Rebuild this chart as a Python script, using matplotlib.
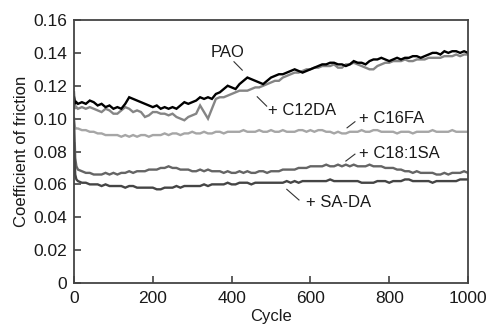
import matplotlib
matplotlib.use("Agg")
import matplotlib.pyplot as plt
from matplotlib.ticker import FuncFormatter

plt.rcParams['font.family'] = ['Liberation Sans', 'DejaVu Sans']

cycles = [0, 3, 6] + list(range(10, 1001, 10))

pao = [0.113, 0.109, 0.110,
       0.109, 0.110, 0.109, 0.111, 0.110, 0.108, 0.109, 0.107, 0.108, 0.106,
       0.107, 0.106, 0.109, 0.113, 0.112, 0.111, 0.110, 0.109, 0.108, 0.107,
       0.108, 0.106, 0.107, 0.106, 0.107, 0.106, 0.108, 0.110, 0.109, 0.110,
       0.111, 0.113, 0.112, 0.113, 0.112, 0.115, 0.116, 0.118, 0.120, 0.119,
       0.118, 0.121, 0.123, 0.125, 0.124, 0.123, 0.122, 0.121, 0.123, 0.125,
       0.126, 0.127, 0.127, 0.128, 0.129, 0.130, 0.129, 0.128, 0.129, 0.130,
       0.131, 0.132, 0.133, 0.133, 0.134, 0.134, 0.133, 0.133, 0.132, 0.133,
       0.135, 0.134, 0.134, 0.133, 0.135, 0.136, 0.136, 0.137, 0.136, 0.135,
       0.136, 0.137, 0.136, 0.137, 0.137, 0.138, 0.138, 0.137, 0.138, 0.139,
       0.140, 0.140, 0.139, 0.141, 0.140, 0.141, 0.141, 0.140, 0.141, 0.140]

c12da = [0.116, 0.106, 0.107,
         0.106, 0.107, 0.106, 0.107, 0.106, 0.105, 0.104, 0.106, 0.105, 0.103,
         0.103, 0.105, 0.107, 0.106, 0.104, 0.105, 0.104, 0.101, 0.102, 0.104,
         0.104, 0.103, 0.103, 0.102, 0.103, 0.101, 0.100, 0.099, 0.101, 0.102,
         0.103, 0.108, 0.104, 0.100, 0.106, 0.112, 0.113, 0.113, 0.114, 0.115,
         0.116, 0.117, 0.117, 0.117, 0.118, 0.119, 0.119, 0.120, 0.121, 0.122,
         0.123, 0.123, 0.125, 0.126, 0.127, 0.128, 0.128, 0.129, 0.130, 0.130,
         0.131, 0.131, 0.132, 0.132, 0.132, 0.133, 0.131, 0.131, 0.133, 0.133,
         0.134, 0.133, 0.132, 0.131, 0.130, 0.130, 0.132, 0.133, 0.134, 0.134,
         0.135, 0.135, 0.135, 0.136, 0.135, 0.135, 0.136, 0.136, 0.136, 0.137,
         0.137, 0.137, 0.137, 0.138, 0.138, 0.138, 0.139, 0.138, 0.139, 0.139]

c16fa = [0.098, 0.094, 0.094,
         0.094, 0.093, 0.093, 0.092, 0.092, 0.091, 0.091, 0.090, 0.090, 0.090,
         0.090, 0.089, 0.090, 0.089, 0.090, 0.089, 0.090, 0.090, 0.089, 0.090,
         0.090, 0.090, 0.091, 0.090, 0.091, 0.091, 0.090, 0.091, 0.091, 0.092,
         0.091, 0.091, 0.092, 0.091, 0.091, 0.092, 0.092, 0.091, 0.092, 0.092,
         0.092, 0.092, 0.093, 0.092, 0.092, 0.092, 0.093, 0.092, 0.092, 0.093,
         0.092, 0.092, 0.093, 0.092, 0.092, 0.092, 0.093, 0.093, 0.092, 0.093,
         0.092, 0.093, 0.093, 0.092, 0.092, 0.091, 0.092, 0.091, 0.091, 0.092,
         0.092, 0.092, 0.093, 0.092, 0.092, 0.093, 0.093, 0.092, 0.092, 0.092,
         0.092, 0.091, 0.092, 0.092, 0.092, 0.091, 0.092, 0.092, 0.092, 0.092,
         0.093, 0.092, 0.092, 0.092, 0.092, 0.093, 0.092, 0.092, 0.092, 0.092]

c18_1sa = [0.100, 0.076, 0.071,
           0.069, 0.068, 0.067, 0.067, 0.066, 0.066, 0.066, 0.067, 0.066, 0.067,
           0.066, 0.067, 0.067, 0.068, 0.067, 0.068, 0.068, 0.068, 0.069, 0.069,
           0.069, 0.070, 0.070, 0.071, 0.070, 0.070, 0.069, 0.069, 0.069, 0.068,
           0.068, 0.069, 0.068, 0.069, 0.068, 0.068, 0.068, 0.067, 0.068, 0.067,
           0.067, 0.068, 0.067, 0.068, 0.067, 0.067, 0.068, 0.068, 0.067, 0.068,
           0.068, 0.068, 0.069, 0.069, 0.069, 0.069, 0.070, 0.070, 0.070, 0.071,
           0.071, 0.071, 0.071, 0.072, 0.071, 0.071, 0.072, 0.071, 0.072, 0.071,
           0.072, 0.071, 0.071, 0.071, 0.072, 0.071, 0.071, 0.071, 0.070, 0.070,
           0.070, 0.069, 0.069, 0.068, 0.068, 0.067, 0.068, 0.067, 0.067, 0.067,
           0.067, 0.066, 0.066, 0.067, 0.066, 0.067, 0.067, 0.067, 0.068, 0.067]

sa_da = [0.085, 0.066, 0.063,
         0.062, 0.061, 0.061, 0.060, 0.060, 0.060, 0.059, 0.060, 0.059, 0.059,
         0.059, 0.059, 0.058, 0.059, 0.059, 0.058, 0.058, 0.058, 0.058, 0.058,
         0.057, 0.057, 0.058, 0.058, 0.058, 0.059, 0.058, 0.059, 0.059, 0.059,
         0.059, 0.059, 0.060, 0.059, 0.060, 0.060, 0.060, 0.060, 0.061, 0.060,
         0.060, 0.061, 0.061, 0.061, 0.060, 0.061, 0.061, 0.061, 0.061, 0.061,
         0.061, 0.061, 0.061, 0.062, 0.061, 0.062, 0.061, 0.062, 0.062, 0.062,
         0.062, 0.062, 0.062, 0.062, 0.063, 0.062, 0.062, 0.062, 0.062, 0.062,
         0.062, 0.062, 0.061, 0.061, 0.061, 0.061, 0.062, 0.062, 0.062, 0.061,
         0.062, 0.062, 0.062, 0.063, 0.063, 0.062, 0.062, 0.062, 0.062, 0.062,
         0.061, 0.062, 0.062, 0.062, 0.062, 0.062, 0.062, 0.063, 0.063, 0.063]

labels = ["PAO", "+ C12DA", "+ C16FA", "+ C18:1SA", "+ SA-DA"]
x_ticks = [0, 200, 400, 600, 800, 1000]
y_ticks = [0, 0.02, 0.04, 0.06, 0.08, 0.10, 0.12, 0.14, 0.16]

fig = plt.figure(figsize=(4.87, 3.30), dpi=100)
ax = fig.add_axes([0.152, 0.1424, 0.809, 0.797])

series = [(c16fa, '#a6a6a6'), (c18_1sa, '#656565'), (sa_da, '#454545'),
          (c12da, '#858585'), (pao, '#000000')]
for vals, col in series:
    ax.plot(cycles, vals, color=col, lw=1.7, solid_joinstyle='miter')

ax.set_xlim(0, 1000)
ax.set_ylim(0, 0.16)
ax.set_xticks(x_ticks)
ax.set_yticks(y_ticks)
ax.yaxis.set_major_formatter(FuncFormatter(lambda v, p: "0" if v == 0 else f"{v:.2f}"))
ax.tick_params(direction='in', length=5, width=1.1, color='#333333',
               labelsize=12.5, labelcolor='#1a1a1a', top=False, right=False)
ax.tick_params(axis='x', pad=6)
ax.tick_params(axis='y', pad=5)
for s in ax.spines.values():
    s.set_color('#444444')
    s.set_linewidth(1.3)

ax.set_xlabel("Cycle", fontsize=12, color='#1a1a1a', labelpad=2)
ax.set_ylabel("Coefficient of friction", fontsize=12, color='#1a1a1a', labelpad=3)

# labels and leader lines
txt_kw = dict(fontsize=12, color='#1a1a1a')
ax.text(390, 0.1405, labels[0], ha='center', va='center', **txt_kw)
ax.plot([406, 427], [0.1346, 0.1295], color='#333333', lw=0.8)
ax.text(492, 0.1052, labels[1], ha='left', va='center', **txt_kw)
ax.plot([465, 489], [0.1133, 0.1076], color='#333333', lw=0.8)
ax.text(724, 0.1000, labels[2], ha='left', va='center', **txt_kw)
ax.plot([693, 713], [0.0944, 0.0981], color='#333333', lw=0.8)
ax.text(724, 0.0789, labels[3], ha='left', va='center', **txt_kw)
ax.plot([690, 713], [0.0742, 0.0784], color='#333333', lw=0.8)
ax.text(588, 0.0488, labels[4], ha='left', va='center', **txt_kw)
ax.plot([540, 571], [0.0570, 0.0505], color='#333333', lw=0.8)

fig.savefig("out.png", dpi=100)
